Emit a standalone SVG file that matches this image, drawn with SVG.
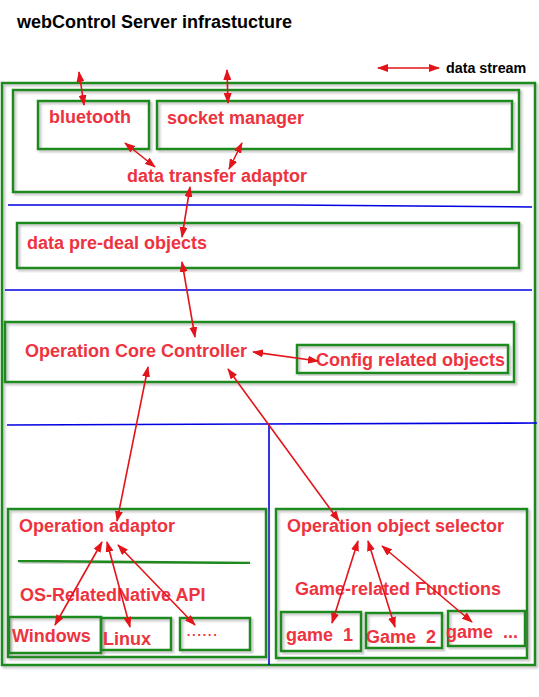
<svg xmlns="http://www.w3.org/2000/svg" width="539" height="697" viewBox="0 0 539 697">
<style>
  .box { fill: none; stroke: #1f8a1f; stroke-width: 2.5; filter: url(#sh); }
  .sep { stroke: #1f8a1f; stroke-width: 2.5; fill: none; filter: url(#sh); }
  .blue { stroke: #0000e0; stroke-width: 1.6; fill: none; }
  .lbl { font-family: "Liberation Sans", Arial, sans-serif; font-weight: bold; font-size: 18px; fill: #ee3340; }
  .blk { font-family: "Liberation Sans", Arial, sans-serif; font-weight: bold; fill: #000; }
  .arr { stroke: #e3141a; stroke-width: 1.6; fill: none; marker-start: url(#ah); marker-end: url(#ah); }
</style>
<defs>
  <marker id="ah" markerUnits="userSpaceOnUse" markerWidth="11" markerHeight="8" refX="10" refY="4" orient="auto-start-reverse">
    <path d="M0,0 L11,4 L0,8 z" fill="#e3141a"/>
  </marker>
  <filter id="sh" x="-5%" y="-5%" width="110%" height="115%">
    <feDropShadow dx="2" dy="2" stdDeviation="1" flood-color="#777" flood-opacity="0.45"/>
  </filter>
</defs>
<rect width="539" height="697" fill="#fff"/>

<g id="title">
  <text class="blk" x="17" y="28" font-size="18">webControl Server infrastucture</text>
</g>
<g id="legend">
  <line class="arr" x1="378" y1="68" x2="439" y2="68"/>
  <text class="blk" x="446" y="73" font-size="14.3">data stream</text>
</g>

<g id="outer">
  <rect class="box" x="2" y="83" width="533" height="582"/>
</g>

<g id="separators">
  <path class="blue" d="M8,205 L290,205 L532,207"/>
  <path class="blue" d="M5,290 L532,290"/>
  <path class="blue" d="M7,425 L260,424 L537,423"/>
  <path class="blue" d="M269,424 L269,665"/>
</g>

<g id="comm-layer">
  <rect class="box" x="13" y="90" width="506" height="102"/>
  <text class="lbl" x="127" y="182">data transfer adaptor</text>
</g>
<g id="bluetooth">
  <rect class="box" x="38" y="101" width="111" height="48"/>
  <text class="lbl" x="49" y="123">bluetooth</text>
</g>
<g id="socket-manager">
  <rect class="box" x="157" y="101" width="355" height="48"/>
  <text class="lbl" x="167" y="124">socket manager</text>
</g>

<g id="data-pre-deal">
  <rect class="box" x="17" y="223" width="502" height="45"/>
  <text class="lbl" x="27" y="249">data pre-deal objects</text>
</g>

<g id="core-controller">
  <rect class="box" x="5" y="322" width="509" height="60"/>
  <text class="lbl" x="25" y="357" font-size="18.3">Operation Core Controller</text>
</g>
<g id="config">
  <rect class="box" x="297" y="345" width="211" height="28"/>
  <text class="lbl" x="316" y="366">Config related objects</text>
</g>

<g id="operation-adaptor">
  <rect class="box" x="8" y="509" width="258" height="148"/>
  <text class="lbl" x="19" y="532">Operation adaptor</text>
  <path class="sep" d="M18,561 L250,563"/>
  <text class="lbl" x="20" y="601">OS-RelatedNative API</text>
</g>
<g id="windows">
  <rect class="box" x="9" y="617" width="92" height="36"/>
  <text class="lbl" x="12" y="642">Windows</text>
</g>
<g id="linux">
  <rect class="box" x="101" y="618" width="70" height="32"/>
  <text class="lbl" x="103" y="645">Linux</text>
</g>
<g id="os-more">
  <rect class="box" x="180" y="618" width="70" height="32"/>
  <text class="lbl" x="186" y="636" style="font-weight:normal;font-size:19px">......</text>
</g>

<g id="operation-object-selector">
  <rect class="box" x="276" y="509" width="251" height="149"/>
  <text class="lbl" x="287" y="532">Operation object selector</text>
  <path class="sep" d="M296,565 L510,565"/>
  <text class="lbl" x="295" y="595">Game-related Functions</text>
</g>
<g id="game1">
  <rect class="box" x="281" y="612" width="80" height="39"/>
  <text class="lbl" x="286" y="641" xml:space="preserve">game  1</text>
</g>
<g id="game2">
  <rect class="box" x="366" y="613" width="76" height="35"/>
  <text class="lbl" x="366" y="643" xml:space="preserve">Game  2</text>
</g>
<g id="game-more">
  <rect class="box" x="448" y="611" width="77" height="35"/>
  <text class="lbl" x="446" y="638" xml:space="preserve">game  ...</text>
</g>

<g id="connectors">
  <line class="arr" x1="79" y1="72" x2="84" y2="105"/>
  <line class="arr" x1="227" y1="70" x2="228" y2="103"/>
  <line class="arr" x1="125" y1="143" x2="155" y2="167"/>
  <line class="arr" x1="242" y1="143" x2="229" y2="169"/>
  <line class="arr" x1="190" y1="187" x2="182" y2="237"/>
  <line class="arr" x1="182" y1="262" x2="195" y2="337"/>
  <line class="arr" x1="253" y1="352" x2="318" y2="361"/>
  <line class="arr" x1="148" y1="367" x2="117" y2="521"/>
  <line class="arr" x1="228" y1="369" x2="339" y2="521"/>
  <line class="arr" x1="55" y1="625" x2="102" y2="542"/>
  <line class="arr" x1="130" y1="627" x2="107" y2="542"/>
  <line class="arr" x1="195" y1="625" x2="118" y2="545"/>
  <line class="arr" x1="332" y1="623" x2="358" y2="541"/>
  <line class="arr" x1="395" y1="627" x2="368" y2="541"/>
  <line class="arr" x1="472" y1="622" x2="382" y2="546"/>
</g>
</svg>
